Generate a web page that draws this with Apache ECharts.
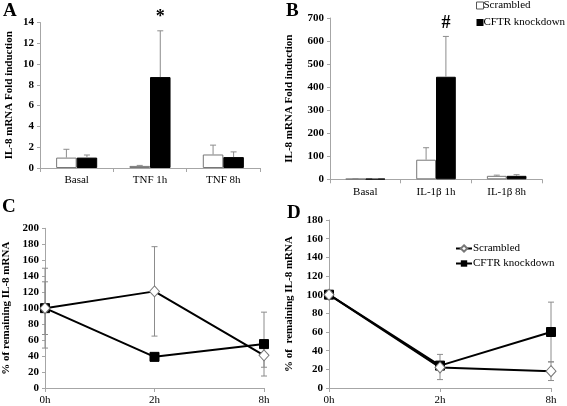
<!DOCTYPE html>
<html><head><meta charset="utf-8">
<script src="https://cdn.jsdelivr.net/npm/echarts@6/dist/echarts.min.js"></script>
<style>html,body{margin:0;padding:0;background:#fff}#c{width:567px;height:406px}</style>
</head><body><div id="c"></div>
<script>
// Panel A
var catsA = ['Basal', 'TNF 1h', 'TNF 8h'];
var scrA = [1.0, 0.2, 1.3];
var scrAErr = [1.8, 0.25, 2.2];
var kdA = [1.0, 8.75, 1.05];
var kdAErr = [1.25, 13.2, 1.55];
var markA = ['', '*', ''];
// Panel B
var catsB = ['Basal', 'IL-1\u03b2 1h', 'IL-1\u03b2 8h'];
var scrB = [2, 85, 15];
var scrBErr = [3, 137, 18];
var kdB = [2, 445, 15];
var kdBErr = [3, 620, 20];
var markB = ['', '#', ''];
// Panel C
var timeCats = ['0h', '2h', '8h'];
var scrC = [100, 121, 41];
var scrCLo = [50, 65, 26];
var scrCHi = [150, 177, 56];
var kdC = [100, 39, 55];
var kdCLo = [67, 34, 15];
var kdCHi = [133, 44, 95];
// Panel D
var scrD = [100, 22, 18];
var scrDLo = [100, 9, 8];
var scrDHi = [100, 36, 28];
var kdD = [100, 24, 60];
var kdDLo = [100, 20, 28];
var kdDHi = [100, 28, 92];

var SERIF = '"Liberation Serif", "Times New Roman", serif';
var ERR = '#8c8c8c';
var AX = '#a6a6a6';

function barErr(gridIdx, vals, errs, side, marks) {
  var data = vals.map(function (v, i) { return [i, v, errs[i], side, marks ? marks[i] : '']; });
  return {
    type: 'custom', xAxisIndex: gridIdx, yAxisIndex: gridIdx, z: 5, silent: true,
    data: data,
    renderItem: function (params, api) {
      var i = api.value(0);
      var band = api.size([1, 0])[0];
      var x = api.coord([i, 0])[0] + (api.value(3) === 0 ? -1 : 1) * band * 0.14;
      var yb = api.coord([i, api.value(1)])[1];
      var yt = api.coord([i, api.value(2)])[1];
      var st = { stroke: ERR, lineWidth: 1 };
      var ch = [
        { type: 'line', shape: { x1: x, y1: yb, x2: x, y2: yt }, style: st },
        { type: 'line', shape: { x1: x - 3, y1: yt, x2: x + 3, y2: yt }, style: st }
      ];
      var m = data[params.dataIndex][4];
      if (m) {
        ch.push({ type: 'text', x: x, y: yt - 4, style: { text: m, fill: '#000', font: 'bold 18px ' + SERIF, align: 'center', verticalAlign: 'bottom' } });
      }
      return { type: 'group', children: ch };
    }
  };
}
function lineErr(gridIdx, lo, hi) {
  var data = lo.map(function (v, i) { return [i, v, hi[i]]; });
  return {
    type: 'custom', xAxisIndex: gridIdx, yAxisIndex: gridIdx, z: 1, silent: true,
    data: data,
    renderItem: function (params, api) {
      var i = api.value(0);
      var x = api.coord([i, 0])[0];
      var y1 = api.coord([i, api.value(1)])[1];
      var y2 = api.coord([i, api.value(2)])[1];
      var st = { stroke: ERR, lineWidth: 1 };
      return { type: 'group', children: [
        { type: 'line', shape: { x1: x, y1: y1, x2: x, y2: y2 }, style: st },
        { type: 'line', shape: { x1: x - 3, y1: y1, x2: x + 3, y2: y1 }, style: st },
        { type: 'line', shape: { x1: x - 3, y1: y2, x2: x + 3, y2: y2 }, style: st }
      ] };
    }
  };
}
function yAx(gridIdx, max, interval, name, gap) {
  return {
    type: 'value', gridIndex: gridIdx, min: 0, max: max, interval: interval,
    name: name, nameLocation: 'middle', nameGap: gap,
    nameTextStyle: { fontFamily: SERIF, fontWeight: 'bold', fontSize: 11, color: '#000' },
    axisLine: { show: true, lineStyle: { color: AX } },
    axisTick: { show: true, length: 3, lineStyle: { color: AX } },
    splitLine: { show: false },
    axisLabel: { fontFamily: SERIF, fontWeight: 'bold', fontSize: 11, color: '#000', margin: 6 }
  };
}
function xCat(gridIdx, cats, boundary) {
  return {
    type: 'category', gridIndex: gridIdx, data: cats, boundaryGap: boundary,
    axisLine: { lineStyle: { color: AX } },
    axisTick: { show: true, length: 4, lineStyle: { color: AX } },
    axisLabel: { fontFamily: SERIF, fontSize: 11, color: '#000', margin: 7 }
  };
}
function bars(gridIdx, name, vals, white) {
  return {
    type: 'bar', name: name, xAxisIndex: gridIdx, yAxisIndex: gridIdx, data: vals,
    barWidth: '28%', barGap: '0%', z: 3,
    itemStyle: white ? { color: '#fff', borderColor: '#777', borderWidth: 1 } : { color: '#000', borderColor: '#000', borderWidth: 1 }
  };
}
function lineS(gridIdx, name, vals, scr) {
  return {
    type: 'line', name: name, xAxisIndex: gridIdx, yAxisIndex: gridIdx, data: vals, z: scr ? 4 : 3,
    lineStyle: { color: '#000', width: 2 },
    symbol: scr ? 'diamond' : 'rect', symbolSize: scr ? [10, 11] : 9,
    itemStyle: scr ? { color: '#fff', borderColor: '#777', borderWidth: 1 } : { color: '#000', borderColor: '#000' },
    showAllSymbol: true
  };
}
var nameMap = { 'Scr L': 'Scrambled', 'KD L': 'CFTR knockdown' };

var option = {
  animation: false,
  backgroundColor: '#fff',
  grid: [
    { left: 40, right: 307, top: 22.5, bottom: 238 },
    { left: 330, right: 25, top: 18, bottom: 226.7 },
    { left: 39, right: 303, top: 228.3, bottom: 17.7 },
    { left: 329, right: 16, top: 220, bottom: 16.7 }
  ],
  xAxis: [xCat(0, catsA, true), xCat(1, catsB, true), xCat(2, timeCats, false), xCat(3, timeCats, false)],
  yAxis: [
    yAx(0, 14, 2, 'IL-8 mRNA Fold induction', 25),
    yAx(1, 700, 100, 'IL-8 mRNA Fold induction', 35),
    yAx(2, 200, 20, '% of remaining IL-8 mRNA', 33),
    yAx(3, 180, 20, '% of  remaining IL-8 mRNA', 34)
  ],
  legend: [
    {
      orient: 'vertical', left: 476, top: 0, padding: 0, itemGap: 6, itemWidth: 7, itemHeight: 7,
      textStyle: { fontFamily: SERIF, fontSize: 11, color: '#000', padding: [0, 0, 0, -5] },
      data: [
        { name: 'Scrambled', icon: 'rect', itemStyle: { color: '#fff', borderColor: '#555', borderWidth: 1 } },
        { name: 'CFTR knockdown', icon: 'rect', itemStyle: { color: '#000', borderWidth: 0 } }
      ]
    },
    {
      orient: 'vertical', left: 455, top: 243, padding: 0, itemGap: 4, itemWidth: 16, itemHeight: 8,
      textStyle: { fontFamily: SERIF, fontSize: 11, color: '#000', padding: [0, 0, 0, -4] },
      formatter: function (n) { return nameMap[n] || n; },
      data: ['Scr L', 'KD L']
    }
  ],
  graphic: [
    { type: 'text', left: 3, top: 2, style: { text: 'A', font: 'bold 19px ' + SERIF, fill: '#000' } },
    { type: 'text', left: 286, top: 2, style: { text: 'B', font: 'bold 19px ' + SERIF, fill: '#000' } },
    { type: 'text', left: 2, top: 198, style: { text: 'C', font: 'bold 19px ' + SERIF, fill: '#000' } },
    { type: 'text', left: 287, top: 204, style: { text: 'D', font: 'bold 19px ' + SERIF, fill: '#000' } }
  ],
  series: [
    bars(0, 'Scrambled', scrA, true), bars(0, 'CFTR knockdown', kdA, false),
    barErr(0, scrA, scrAErr, 0, null), barErr(0, kdA, kdAErr, 1, markA),
    bars(1, 'Scrambled', scrB, true), bars(1, 'CFTR knockdown', kdB, false),
    barErr(1, scrB, scrBErr, 0, null), barErr(1, kdB, kdBErr, 1, markB),
    lineErr(2, scrCLo, scrCHi), lineErr(2, kdCLo, kdCHi),
    lineS(2, 'KD C', kdC, false), lineS(2, 'Scr C', scrC, true),
    lineErr(3, scrDLo, scrDHi), lineErr(3, kdDLo, kdDHi),
    lineS(3, 'KD L', kdD, false), lineS(3, 'Scr L', scrD, true)
  ]
};
var chart = echarts.init(document.getElementById('c'), null, { renderer: 'canvas' });
chart.setOption(option);
</script></body></html>
